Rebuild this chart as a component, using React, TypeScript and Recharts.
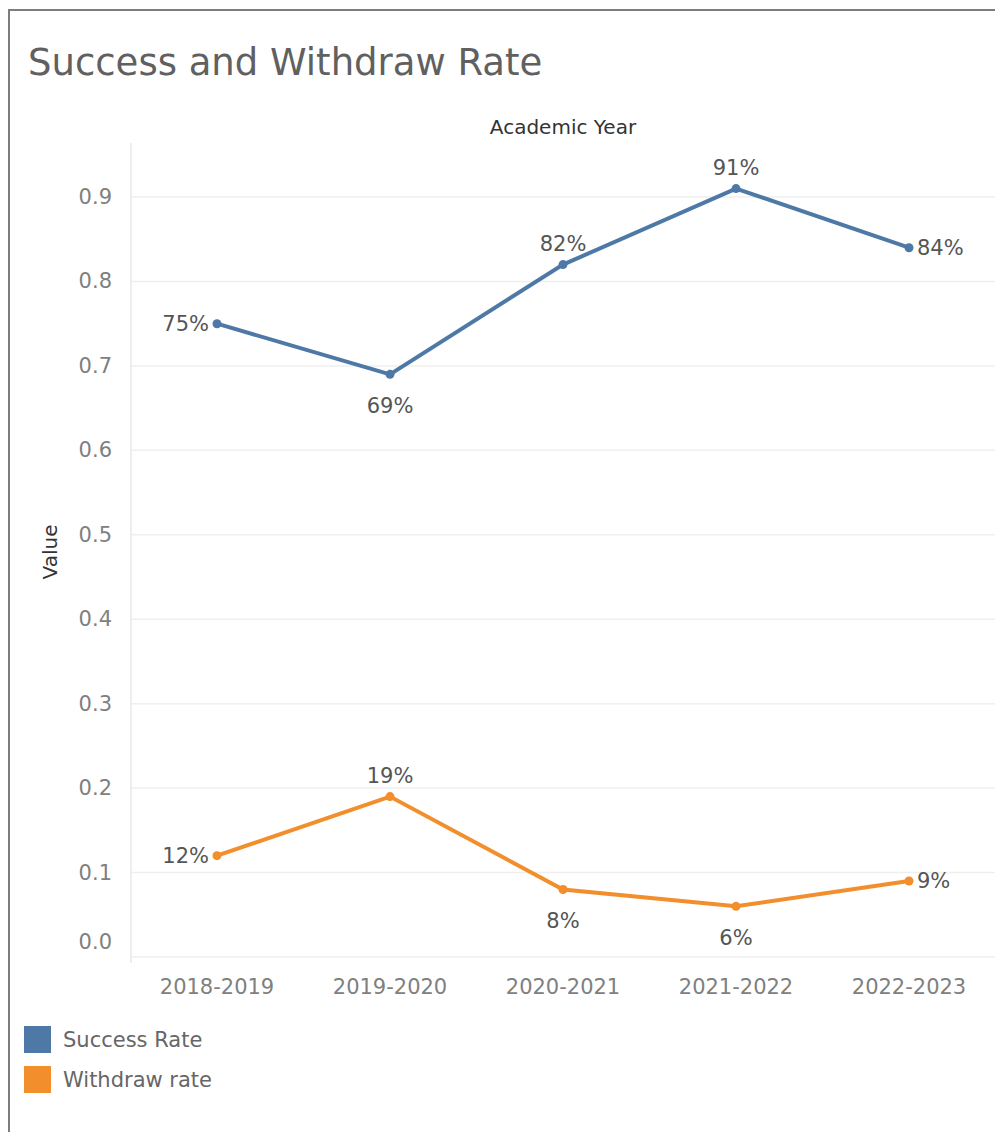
import React from "react";
import { LineChart, Line, XAxis, YAxis, ReferenceLine, LabelList } from "recharts";

const years = ["2018-2019", "2019-2020", "2020-2021", "2021-2022", "2022-2023"];
const successRate = [0.75, 0.69, 0.82, 0.91, 0.84];
const withdrawRate = [0.12, 0.19, 0.08, 0.06, 0.09];
const yTicks = [0, 0.1, 0.2, 0.3, 0.4, 0.5, 0.6, 0.7, 0.8, 0.9];

const data = years.map((y, i) => ({ year: y, success: successRate[i], withdraw: withdrawRate[i] }));

const FONT = "'DejaVu Sans', sans-serif";
const BLUE = "#4e79a7";
const ORANGE = "#f28e2b";

const makeLabel = (values: number[]) => (props: any) => {
  const { x, y, index, value } = props;
  const n = values.length;
  let tx = x;
  let ty = y;
  let anchor: "start" | "middle" | "end" = "middle";
  if (index === 0) {
    tx = x - 8;
    anchor = "end";
  } else if (index === n - 1) {
    tx = x + 8;
    anchor = "start";
  } else {
    const avg = (values[index - 1] + values[index + 1]) / 2;
    if (values[index] >= avg) ty = y - 21;
    else ty = y + 32;
  }
  return (
    <text x={tx} y={ty} textAnchor={anchor} dominantBaseline="central" fontFamily={FONT} fontSize={21} fill="#555">
      {Math.round(Number(value) * 100) + "%"}
    </text>
  );
};

const YTick = (props: any) => {
  const { x, y, payload } = props;
  const v = Number(payload.value);
  const shift = v === 0 ? -15 : 0;
  return (
    <text x={x} y={y + shift} textAnchor="end" dominantBaseline="central" fontFamily={FONT} fontSize={21} fill="#808080">
      {v.toFixed(1)}
    </text>
  );
};

const XTick = (props: any) => {
  const { x, y, payload } = props;
  return (
    <text x={x} y={y} textAnchor="middle" dominantBaseline="central" fontFamily={FONT} fontSize={21} fill="#808080">
      {payload.value}
    </text>
  );
};

export default function App() {
  return (
    <div style={{ position: "absolute", left: 0, top: 0, width: 995, height: 1132, background: "#fff", overflow: "hidden" }}>
      <div style={{ position: "absolute", left: 8, top: 9, width: 987, height: 1123, borderLeft: "2px solid #7d7d7d", borderTop: "2px solid #7d7d7d", boxSizing: "border-box" }} />
      <div style={{ position: "absolute", left: 0, top: 0 }}>
        <LineChart width={995} height={1010} data={data} margin={{ top: 143, right: 0, left: 0, bottom: 0 }}>
          {yTicks.map((t) => (
            <ReferenceLine key={t} y={t} stroke="#efefef" strokeWidth={1.5} ifOverflow="extendDomain" />
          ))}
          <XAxis
            dataKey="year"
            height={47}
            interval={0}
            axisLine={false}
            tickLine={false}
            tickSize={0}
            tickMargin={24}
            padding={{ left: 86, right: 86 }}
            tick={<XTick />}
          />
          <YAxis
            type="number"
            width={131}
            domain={[-0.0071, 0.964]}
            ticks={yTicks}
            allowDataOverflow
            axisLine={{ stroke: "#e8e8e8", strokeWidth: 1.5 }}
            tickLine={false}
            tickSize={0}
            tickMargin={19}
            tick={<YTick />}
          />
          <Line
            type="linear"
            dataKey="success"
            stroke={BLUE}
            strokeWidth={4}
            dot={{ r: 4.5, fill: BLUE, stroke: BLUE, strokeWidth: 0 }}
            isAnimationActive={false}
          >
            <LabelList dataKey="success" content={makeLabel(successRate)} />
          </Line>
          <Line
            type="linear"
            dataKey="withdraw"
            stroke={ORANGE}
            strokeWidth={4}
            dot={{ r: 4.5, fill: ORANGE, stroke: ORANGE, strokeWidth: 0 }}
            isAnimationActive={false}
          >
            <LabelList dataKey="withdraw" content={makeLabel(withdrawRate)} />
          </Line>
        </LineChart>
      </div>
      <svg width={995} height={1132} style={{ position: "absolute", left: 0, top: 0, pointerEvents: "none" }}>
        <text x={28} y={75} fontFamily={FONT} fontSize={37} fill="#606060">Success and Withdraw Rate</text>
        <text x={563} y={134} textAnchor="middle" fontFamily={FONT} fontSize={20} fill="#333">Academic Year</text>
        <text x={0} y={0} transform="translate(50,552) rotate(-90)" textAnchor="middle" dominantBaseline="central" fontFamily={FONT} fontSize={20} fill="#333">Value</text>
        <rect x={24} y={1026} width={27} height={27} fill={BLUE} />
        <rect x={24} y={1066} width={27} height={27} fill={ORANGE} />
        <text x={63} y={1040} dominantBaseline="central" fontFamily={FONT} fontSize={21} fill="#666">Success Rate</text>
        <text x={63} y={1080} dominantBaseline="central" fontFamily={FONT} fontSize={21} fill="#666">Withdraw rate</text>
      </svg>
    </div>
  );
}
